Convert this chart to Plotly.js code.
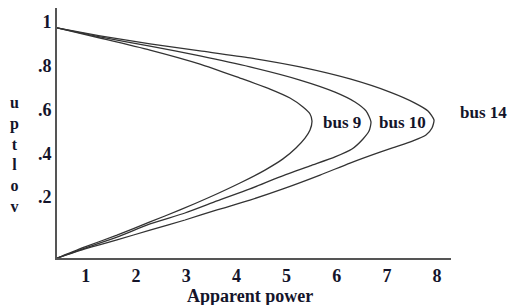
<!DOCTYPE html>
<html>
<head>
<meta charset="utf-8">
<script src="https://cdn.plot.ly/plotly-3.0.1.min.js"></script>
<style>html,body{margin:0;padding:0;background:#fff;}#chart{width:512px;height:305px;}</style>
</head>
<body>
<div id="chart"></div>
<script>
// Apparent power (x) vs voltage (y) for each bus, upper branch -> nose -> lower branch
const bus9X  = [0.425,1.282,2.278,3.275,4.072,4.670,5.068,5.328,5.468,5.507,5.468,5.368,5.188,4.929,4.570,4.072,3.474,2.876,2.278,1.620,0.983,0.425];
const bus9Y  = [0.972,0.926,0.871,0.807,0.743,0.693,0.652,0.611,0.579,0.547,0.506,0.469,0.424,0.374,0.323,0.264,0.200,0.141,0.086,0.026,-0.028,-0.079];
const bus10X = [0.425,1.282,2.278,3.275,4.271,5.268,5.966,6.364,6.584,6.683,6.644,6.524,6.304,5.966,5.468,4.869,4.271,3.614,2.976,2.278,1.620,0.983,0.425];
const bus10Y = [0.972,0.931,0.889,0.844,0.794,0.734,0.679,0.634,0.593,0.543,0.501,0.465,0.419,0.383,0.342,0.292,0.237,0.182,0.127,0.077,0.017,-0.033,-0.079];
const bus14X = [0.425,1.282,2.278,3.275,4.271,5.268,6.265,7.062,7.560,7.819,7.939,7.899,7.779,7.520,7.162,6.863,6.265,5.667,4.929,4.271,3.614,2.976,2.278,1.620,0.983,0.425];
const bus14Y = [0.972,0.936,0.899,0.867,0.835,0.794,0.739,0.679,0.629,0.593,0.552,0.515,0.483,0.456,0.428,0.405,0.355,0.300,0.237,0.186,0.141,0.095,0.049,0.004,-0.037,-0.079];

const seriesNames = ["bus 9","bus 10","bus 14"];
const labelX = [6.10, 7.32, 8.92];
const labelY = [0.538, 0.538, 0.588];

const xTickVals = [1,2,3,4,5,6,7,8];
const xTickText = ["1","2","3","4","5","6","7","8"];
const yTickVals = [0.2,0.4,0.6,0.8,1];
const yTickText = [".2",".4",".6",".8","1"];

const xTitle = "Apparent power";
const yTitleLetters = ["u","p","t","l","o","v"];

const FONT = "Liberation Serif, Times New Roman, serif";
const TXT = "#14142a";
const lineStyle = {color:"#333", width:1.3, shape:"spline", smoothing:0.6};

const xs = [bus9X, bus10X, bus14X];
const ys = [bus9Y, bus10Y, bus14Y];
const traces = seriesNames.map((n,i)=>({
  x: xs[i], y: ys[i], name: n, type:"scatter", mode:"lines",
  line: lineStyle, hoverinfo:"skip", cliponaxis:false
}));

const xMax = 8.278;
const annotations = seriesNames.map((n,i)=>{
  const a = {
    y: labelY[i], yref:"y", text:"<b>"+n+"</b>",
    showarrow:false, font:{family:FONT, size:17, color:TXT}, xanchor:"center", yanchor:"middle"
  };
  if (labelX[i] > xMax) {
    // outside the axis range: anchor at the right edge of the plot, shift by the data distance
    a.xref = "paper"; a.x = 1; a.xshift = (labelX[i]-xMax)*50.17;
  } else { a.xref = "x"; a.x = labelX[i]; }
  return a;
});
annotations.push({
  x:0, y:0.416, xref:"paper", yref:"paper", xshift:-43,
  text:"<b>"+yTitleLetters.join("<br>")+"</b>", showarrow:false,
  font:{family:FONT, size:16, color:TXT}, xanchor:"center", yanchor:"middle"
});
annotations.push({
  x:0.49, y:0, xref:"paper", yref:"paper", yshift:-38,
  text:"<b>"+xTitle+"</b>", showarrow:false,
  font:{family:FONT, size:18, color:TXT}, xanchor:"center", yanchor:"middle"
});

const layout = {
  width:512, height:305,
  margin:{l:57, r:61, t:8, b:47},
  paper_bgcolor:"#fff", plot_bgcolor:"#fff",
  showlegend:false,
  xaxis:{
    range:[0.4246, xMax], showgrid:false, zeroline:false,
    showline:true, linecolor:"#555", linewidth:2,
    tickmode:"array", tickvals:xTickVals, ticktext:xTickText.map(t=>"<b>"+t+"</b>"), ticks:"",
    ticklabelstandoff:0,
    tickfont:{family:FONT, size:18, color:TXT}
  },
  yaxis:{
    range:[-0.0785, 1.063], showgrid:false, zeroline:false,
    showline:true, linecolor:"#555", linewidth:2,
    tickmode:"array", tickvals:yTickVals, ticktext:yTickText.map(t=>"<b>"+t+"</b>"), ticks:"",
    ticklabelstandoff:0,
    tickfont:{family:FONT, size:18, color:TXT}
  },
  annotations: annotations
};

Plotly.newPlot("chart", traces, layout, {staticPlot:true, displayModeBar:false});
</script>
</body>
</html>
